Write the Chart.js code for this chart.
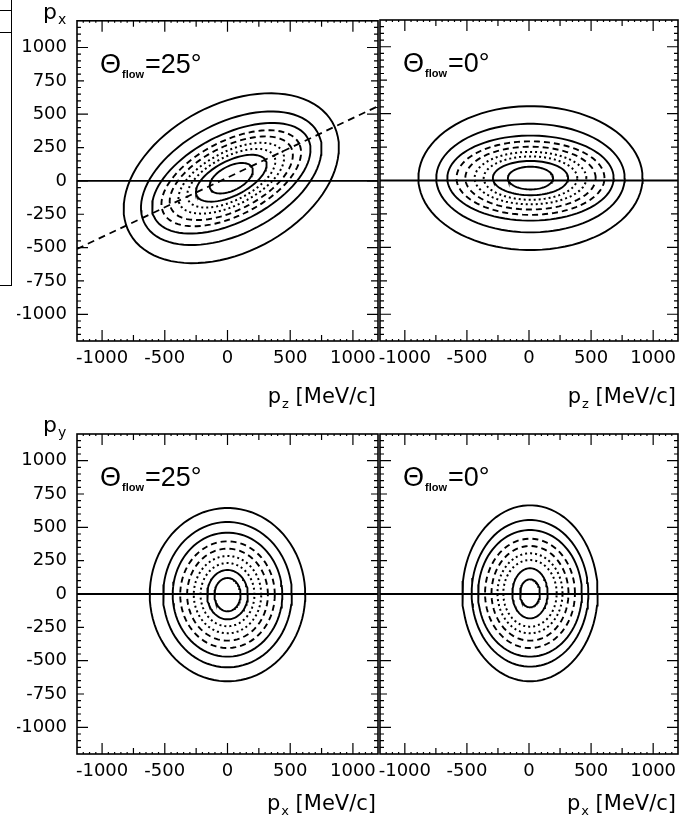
<!DOCTYPE html>
<html>
<head>
<meta charset="utf-8">
<script src="https://cdn.jsdelivr.net/npm/chart.js@4.4.1/dist/chart.umd.min.js"></script>
<style>
  html, body { margin: 0; padding: 0; background: #fff; }
  #wrap { position: relative; width: 698px; height: 826px; overflow: hidden; }
  #wrap canvas { position: absolute; left: 0; top: 0; }
  .edge { position: absolute; border: 0 solid #000; }
</style>
</head>
<body>
<div id="wrap">
  <div class="edge" style="left:11px;top:0;height:285px;border-left-width:1.5px"></div>
  <div class="edge" style="left:0;top:10px;width:12px;border-top-width:1.5px"></div>
  <div class="edge" style="left:0;top:32px;width:12px;border-top-width:1.5px"></div>
  <div class="edge" style="left:0;top:285px;width:12px;border-top-width:1.5px"></div>
  <canvas id="c1" width="698" height="826"></canvas>
  <canvas id="c2" width="698" height="826"></canvas>
  <canvas id="c3" width="698" height="826"></canvas>
  <canvas id="c4" width="698" height="826"></canvas>
</div>
<script>
const axisRange = [-1200, 1200];
const xTickLabels = [-1000, -500, 0, 500, 1000];
const yTickLabels = [1000, 750, 500, 250, 0, -250, -500, -750, -1000];
const levelStyles = ['solid', 'solid', 'solid', 'dashed', 'dashed', 'dotted', 'dotted', 'solid', 'solid'];

// contour half-widths per level, outermost first (MeV/c)
const pzx25Long = [910, 770, 680, 600, 530, 455, 380, 305, 185];
const pzx25Short = [560, 420, 330, 282, 242, 202, 166, 132, 92];
const pzx0Wide = [903, 759, 670, 596, 525, 450, 377, 303, 182];
const pzx0Tall = [538, 406, 318, 275, 235, 196, 162, 128, 85];
const pxy25Wide = [620, 513, 437, 377, 322, 269, 215, 162, 104];
const pxy25Tall = [650, 545, 465, 400, 345, 290, 237, 185, 125];
const pxy0Wide = [545, 470, 418, 362, 310, 262, 215, 142, 80];
const pxy0Tall = [660, 550, 475, 410, 355, 300, 250, 188, 105];

// flow axis drawn in the pz-px panel
const flowLineZ = [-1200, 1200];
const flowLineX = [-510, 560];

const panels = [
  {el: '#c1', area: [77, 20, 378, 341], wide: pzx25Long, tall: pzx25Short, center: [30, 20], tilt: 25,
   angle: '25°', yName: 'x', xName: 'z', yLabels: true, flow: true},
  {el: '#c2', area: [380, 20, 678, 341], wide: pzx0Wide, tall: pzx0Tall, center: [12, 18], tilt: 0,
   angle: '0°', yName: null, xName: 'z', yLabels: false, flow: false},
  {el: '#c3', area: [77, 434, 378, 754], wide: pxy25Wide, tall: pxy25Tall, center: [0, -5], tilt: 0,
   angle: '25°', yName: 'y', xName: 'x', yLabels: true, flow: false},
  {el: '#c4', area: [380, 434, 678, 754], wide: pxy0Wide, tall: pxy0Tall, center: [8, 5], tilt: 0,
   angle: '0°', yName: null, xName: 'x', yLabels: false, flow: false},
];

const tickFont = {family: 'DejaVu Sans', size: 18};

function contour(a, b, c, tilt) {
  let t = tilt * Math.PI / 180;
  let pts = [];
  for (let k = 0; k <= 90; k++) {
    let u = k * Math.PI / 45;
    let ex = a * Math.cos(u), ey = b * Math.sin(u);
    pts.push({x: c[0] + ex * Math.cos(t) - ey * Math.sin(t), y: c[1] + ex * Math.sin(t) + ey * Math.cos(t)});
  }
  return pts;
}

function dashFor(style) {
  if (style === 'dashed') return [6, 4];
  if (style === 'dotted') return [2, 3];
  return [];
}

function drawSub(ctx, x, y, main, sub, rest, size) {
  ctx.font = size + 'px "DejaVu Sans"';
  ctx.fillText(main, x, y);
  x += ctx.measureText(main).width;
  ctx.font = Math.round(size * 0.62) + 'px "DejaVu Sans"';
  ctx.fillText(sub, x + 1, y + 5);
  x += ctx.measureText(sub).width + 1;
  if (rest) {
    ctx.font = size + 'px "DejaVu Sans"';
    ctx.fillText(rest, x, y);
  }
}

function textWidth(ctx, main, sub, rest, size) {
  ctx.font = size + 'px "DejaVu Sans"';
  let w = ctx.measureText(main).width + ctx.measureText(rest).width;
  ctx.font = Math.round(size * 0.62) + 'px "DejaVu Sans"';
  return w + ctx.measureText(sub).width + 1;
}

const panelDeco = {
  id: 'panelDeco',
  afterDatasetsDraw(chart, args, opts) {
    const p = opts.panel;
    const {ctx, chartArea: a} = chart;
    const x = chart.scales.x, y = chart.scales.y;
    ctx.save();
    ctx.strokeStyle = '#000';
    ctx.fillStyle = '#000';
    ctx.lineWidth = 1.6;
    ctx.strokeRect(a.left, a.top, a.right - a.left, a.bottom - a.top);

    // inward ticks on all four sides
    ctx.lineWidth = 1.2;
    ctx.beginPath();
    for (let v = -1150; v <= 1150; v += 50) {
      let lx = v % 500 === 0 ? 11 : v % 250 === 0 ? 6 : 2;
      let ly = v % 500 === 0 ? 11 : v % 250 === 0 ? 7 : 4;
      let px = x.getPixelForValue(v);
      ctx.moveTo(px, a.bottom); ctx.lineTo(px, a.bottom - lx);
      ctx.moveTo(px, a.top); ctx.lineTo(px, a.top + lx);
      let py = y.getPixelForValue(v);
      ctx.moveTo(a.left, py); ctx.lineTo(a.left + ly, py);
      ctx.moveTo(a.right, py); ctx.lineTo(a.right - ly, py);
    }
    ctx.stroke();

    // Theta_flow label
    ctx.textBaseline = 'alphabetic';
    ctx.textAlign = 'left';
    let tx = a.left + 23, ty = a.top + 52;
    ctx.font = '27px "Liberation Sans"';
    ctx.fillText('\u0398', tx, ty);
    tx += ctx.measureText('\u0398').width + 1;
    ctx.font = 'bold 11px "Liberation Sans"';
    ctx.fillText('flow', tx, ty + 5);
    tx += ctx.measureText('flow').width + 1;
    ctx.font = '27px "Liberation Sans"';
    ctx.fillText('=' + p.angle, tx, ty);

    // axis names
    if (p.yName) drawSub(ctx, a.left - 34, a.top - 2, 'p', p.yName, '', 22);
    let w = textWidth(ctx, 'p', p.xName, ' [MeV/c]', 21);
    drawSub(ctx, a.right - 2 - w, a.bottom + (p.area[1] < 100 ? 62 : 56), 'p', p.xName, ' [MeV/c]', 21);
    ctx.restore();
  }
};

function makeChart(p) {
  let datasets = [];
  p.wide.forEach((a, i) => {
    datasets.push({
      data: contour(a, p.tall[i], p.center, p.tilt),
      showLine: true, pointRadius: 0, borderColor: '#000',
      borderWidth: levelStyles[i] === 'dotted' ? 2 : 1.9,
      borderDash: dashFor(levelStyles[i]), tension: 0
    });
  });
  datasets.push({
    data: axisRange.map(v => ({x: v, y: 0})),
    showLine: true, pointRadius: 0, borderColor: '#000', borderWidth: 1.8
  });
  if (p.flow) {
    datasets.push({
      data: flowLineZ.map((z, i) => ({x: z, y: flowLineX[i]})),
      showLine: true, pointRadius: 0, borderColor: '#000', borderWidth: 1.8, borderDash: [7, 5]
    });
  }
  const yw = p.yLabels ? 60 : 0;
  const [L, T, R, B] = p.area;
  return new Chart(document.querySelector(p.el), {
    type: 'scatter',
    data: {datasets},
    plugins: [panelDeco],
    options: {
      responsive: false,
      animation: false,
      events: [],
      layout: {padding: {left: L - yw, top: T, right: 698 - R, bottom: 826 - B - 30}},
      plugins: {legend: {display: false}, tooltip: {enabled: false}, panelDeco: {panel: p}},
      scales: {
        x: {
          type: 'linear', min: axisRange[0], max: axisRange[1],
          afterBuildTicks: ax => { ax.ticks = xTickLabels.map(v => ({value: v})); },
          afterFit: ax => { ax.height = 30; },
          grid: {display: false, drawTicks: false},
          border: {display: false},
          ticks: {color: '#000', font: tickFont, padding: 7, maxRotation: 0, autoSkip: false, callback: v => String(v)}
        },
        y: {
          type: 'linear', min: axisRange[0], max: axisRange[1],
          afterBuildTicks: ax => { ax.ticks = yTickLabels.map(v => ({value: v})); },
          afterFit: ax => { ax.width = yw; },
          grid: {display: false, drawTicks: false},
          border: {display: false},
          ticks: {display: p.yLabels, color: '#000', font: tickFont, padding: 10, autoSkip: false, callback: v => String(v)}
        }
      }
    }
  });
}

panels.forEach(p => makeChart(p));
</script>
</body>
</html>
